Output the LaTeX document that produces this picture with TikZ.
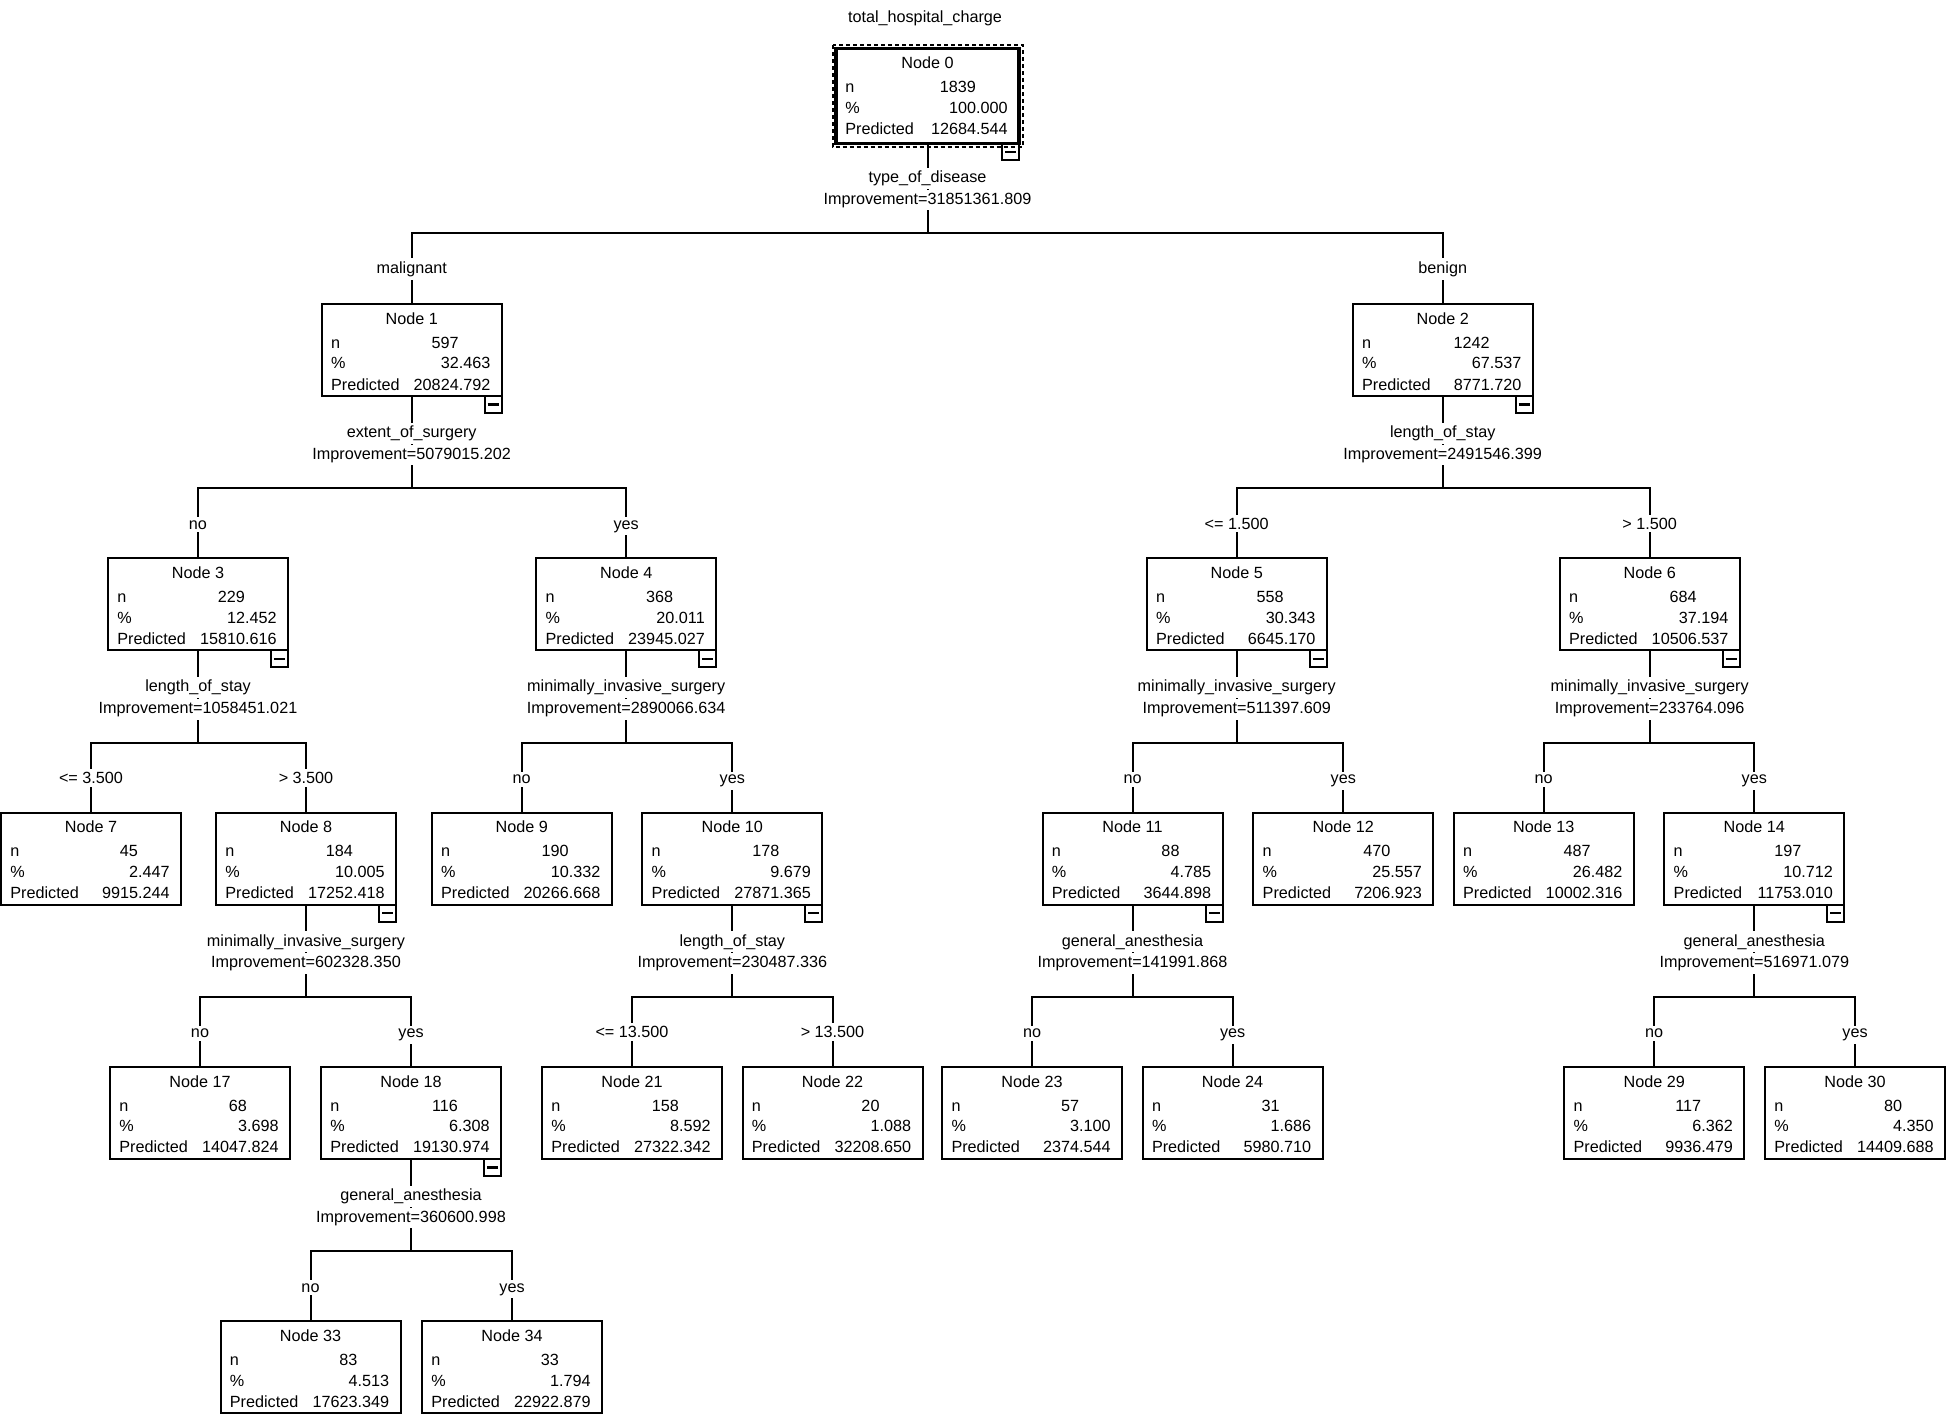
\documentclass[tikz,border=0pt]{standalone}
\usepackage{fontspec}
\setmainfont{Liberation Sans}
\tikzset{
  txt/.style={inner sep=0pt, font=\fontsize{8.1}{9.7}\selectfont},
  lbl/.style={txt, fill=white, inner sep=1.5pt},
  tbox/.style={draw, line width=1pt, minimum width=90pt, minimum height=46pt, inner sep=0pt, outer sep=0pt},
  minusbox/.style={draw, line width=1pt, minimum size=8.5pt, inner sep=0pt, outer sep=0pt},
  conn/.style={line width=1pt}
}
\newcommand\tnodetext[5]{%
  \node[txt, anchor=base] at ([shift={(0,20.3)}]#1.north) {#2};
  \node[txt, anchor=base west] at ([shift={(9,44.2)}]#1.north west) {n};
  \node[txt, anchor=base east] at ([shift={(-42.6,44.2)}]#1.north east) {#3};
  \node[txt, anchor=base west] at ([shift={(9,64.8)}]#1.north west) {\%};
  \node[txt, anchor=base east] at ([shift={(-11,64.8)}]#1.north east) {#4};
  \node[txt, anchor=base west] at ([shift={(9,86)}]#1.north west) {Predicted};
  \node[txt, anchor=base east] at ([shift={(-11,86)}]#1.north east) {#5};
}
\newcommand\tnode[7]{%
  \node[tbox] (#1) at (#2,#3+46) {};
  \tnodetext{#1}{#4}{#5}{#6}{#7}%
}
\newcommand\tminus[1]{%
  \node[minusbox, anchor=north east] (#1m) at (#1.south east) {};
  \draw[line width=1.1pt] ([shift={(-5.5,0)}]#1m.center) -- ([shift={(5.5,0)}]#1m.center);
}
\newcommand\tsplit[7]{%
  \coordinate (#1b) at ([shift={(0,92.3)}]#1.south);
  \draw[conn] (#1.south) -- (#1b);
  \draw[conn] (#4.north) |- (#1b) -| (#6.north);
  \node[lbl, anchor=base] at ([shift={(0,41.5)}]#1.south) {#2};
  \node[lbl, anchor=base] at ([shift={(0,63.1)}]#1.south) {#3};
  \node[lbl, anchor=base] at ([shift={(0,40.8)}]#4.north |- #1b) {#5};
  \node[lbl, anchor=base] at ([shift={(0,40.8)}]#6.north |- #1b) {#7};
}
\begin{document}
\begin{tikzpicture}[x=0.5pt, y=-0.5pt]
\useasboundingbox (0,0) rectangle (1952,1413);
\node[txt, anchor=base] (title) at (925,22.5) {total\_hospital\_charge};
% root
\node[tbox, line width=1.7pt, minimum width=91.5pt, minimum height=47.5pt] (n0) at (927.5,95.8) {};
\draw[line width=1pt, dash pattern=on 2pt off 1.5pt] ([shift={(-3.5,-3.5)}]n0.north west) rectangle ([shift={(3.5,3.5)}]n0.south east);
\tnodetext{n0}{Node 0}{1839}{100.000}{12684.544}
% level 1
\tnode{n1}{411.7}{304}{Node 1}{597}{32.463}{20824.792}
\tnode{n2}{1442.7}{304}{Node 2}{1242}{67.537}{8771.720}
% level 2
\tnode{n3}{198}{558.3}{Node 3}{229}{12.452}{15810.616}
\tnode{n4}{626.2}{558.3}{Node 4}{368}{20.011}{23945.027}
\tnode{n5}{1236.7}{558.3}{Node 5}{558}{30.343}{6645.170}
\tnode{n6}{1649.7}{558.3}{Node 6}{684}{37.194}{10506.537}
% level 3
\tnode{n7}{91}{812.6}{Node 7}{45}{2.447}{9915.244}
\tnode{n8}{306}{812.6}{Node 8}{184}{10.005}{17252.418}
\tnode{n9}{521.7}{812.6}{Node 9}{190}{10.332}{20266.668}
\tnode{n10}{732.3}{812.6}{Node 10}{178}{9.679}{27871.365}
\tnode{n11}{1132.5}{812.6}{Node 11}{88}{4.785}{3644.898}
\tnode{n12}{1343.3}{812.6}{Node 12}{470}{25.557}{7206.923}
\tnode{n13}{1543.7}{812.6}{Node 13}{487}{26.482}{10002.316}
\tnode{n14}{1754.3}{812.6}{Node 14}{197}{10.712}{11753.010}
% level 4
\tnode{n17}{200}{1066.9}{Node 17}{68}{3.698}{14047.824}
\tnode{n18}{411}{1066.9}{Node 18}{116}{6.308}{19130.974}
\tnode{n21}{632}{1066.9}{Node 21}{158}{8.592}{27322.342}
\tnode{n22}{832.5}{1066.9}{Node 22}{20}{1.088}{32208.650}
\tnode{n23}{1032.1}{1066.9}{Node 23}{57}{3.100}{2374.544}
\tnode{n24}{1232.6}{1066.9}{Node 24}{31}{1.686}{5980.710}
\tnode{n29}{1654.2}{1066.9}{Node 29}{117}{6.362}{9936.479}
\tnode{n30}{1855}{1066.9}{Node 30}{80}{4.350}{14409.688}
% level 5
\tnode{n33}{310.5}{1321.2}{Node 33}{83}{4.513}{17623.349}
\tnode{n34}{512}{1321.2}{Node 34}{33}{1.794}{22922.879}
% root split
\coordinate (n0b) at ([shift={(0,89.5)}]n0.south);
\draw[conn] (n0.south) -- (n0b);
\draw[conn] (n1.north) |- (n0b) -| (n2.north);
\node[lbl, anchor=base] at ([shift={(0,39.2)}]n0.south) {type\_of\_disease};
\node[lbl, anchor=base] at ([shift={(0,60.8)}]n0.south) {Improvement=31851361.809};
\node[lbl, anchor=base] at ([shift={(0,40.4)}]n1.north |- n0b) {malignant};
\node[lbl, anchor=base] at ([shift={(0,40.4)}]n2.north |- n0b) {benign};
% splits
\tsplit{n1}{extent\_of\_surgery}{Improvement=5079015.202}{n3}{no}{n4}{yes}
\tsplit{n2}{length\_of\_stay}{Improvement=2491546.399}{n5}{<= 1.500}{n6}{> 1.500}
\tsplit{n3}{length\_of\_stay}{Improvement=1058451.021}{n7}{<= 3.500}{n8}{> 3.500}
\tsplit{n4}{minimally\_invasive\_surgery}{Improvement=2890066.634}{n9}{no}{n10}{yes}
\tsplit{n5}{minimally\_invasive\_surgery}{Improvement=511397.609}{n11}{no}{n12}{yes}
\tsplit{n6}{minimally\_invasive\_surgery}{Improvement=233764.096}{n13}{no}{n14}{yes}
\tsplit{n8}{minimally\_invasive\_surgery}{Improvement=602328.350}{n17}{no}{n18}{yes}
\tsplit{n10}{length\_of\_stay}{Improvement=230487.336}{n21}{<= 13.500}{n22}{> 13.500}
\tsplit{n11}{general\_anesthesia}{Improvement=141991.868}{n23}{no}{n24}{yes}
\tsplit{n14}{general\_anesthesia}{Improvement=516971.079}{n29}{no}{n30}{yes}
\tsplit{n18}{general\_anesthesia}{Improvement=360600.998}{n33}{no}{n34}{yes}
% collapse markers
\tminus{n0}
\tminus{n1}
\tminus{n2}
\tminus{n3}
\tminus{n4}
\tminus{n5}
\tminus{n6}
\tminus{n8}
\tminus{n10}
\tminus{n11}
\tminus{n14}
\tminus{n18}
\end{tikzpicture}
\end{document}
